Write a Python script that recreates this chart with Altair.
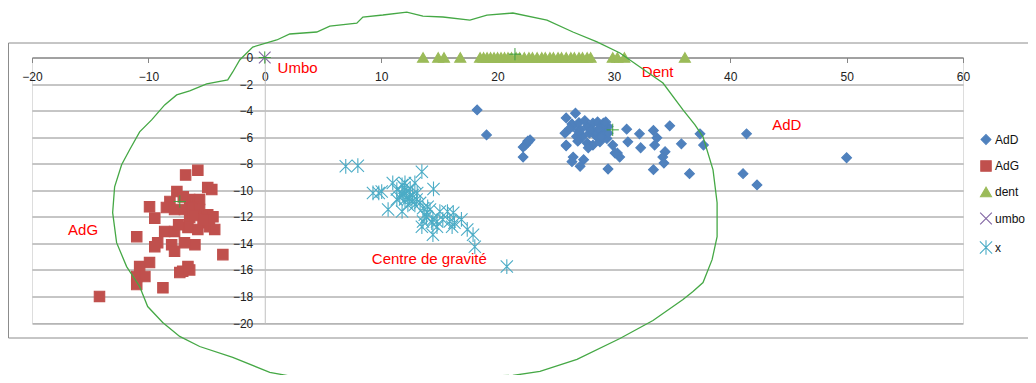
import altair as alt
import pandas as pd

# ---------------- data ----------------
series_order = ["AdD", "AdG", "dent", "umbo", "x"]
series_colors = ["#4f81bd", "#c0504d", "#9bbb59", "#8064a2", "#4bacc6"]

add_x = [18.25, 19.06, 22.6, 22.4, 22.8, 22.2, 22.6, 22.2, 25.9, 26.7, 25.8, 25.9, 26.5, 26.4, 27.1, 27.4,
         26.5, 27.1, 27.7, 28.2, 28.6, 29.1, 29.5, 27.9, 28.5, 29.1, 29.4, 27.7, 28.2, 28.8, 27.3, 26.8,
         27.8, 28.4, 29.0, 29.5, 29.9, 30.3, 30.5, 29.5, 31.1, 31.2, 32.2, 32.3, 33.4, 33.7, 33.5, 33.4,
         34.4, 34.2, 34.3, 34.8, 35.8, 36.5, 37.4, 37.7, 41.4, 41.1, 42.3, 50.0, 25.9, 26.4, 27.0, 30.1,
         27.0, 27.5, 28.0, 28.7, 26.2, 28.9, 29.3, 26.9]
add_y = [-3.95, -5.83, -6.4, -6.6, -6.2, -6.75, -6.3, -7.5, -4.55, -4.2, -5.7, -6.6, -7.5, -7.85, -8.2, -7.7,
         -5.2, -5.45, -5.2, -4.95, -4.85, -4.95, -5.2, -5.7, -5.95, -5.7, -6.1, -6.45, -6.6, -6.35, -5.95, -5.95,
         -6.8, -5.6, -5.3, -5.7, -6.6, -7.2, -7.5, -8.4, -5.4, -6.35, -5.75, -6.8, -5.5, -6.05, -6.6, -8.45,
         -7.1, -7.5, -7.95, -5.15, -6.5, -8.75, -5.75, -6.6, -5.75, -8.75, -9.6, -7.55, -6.65, -5.0, -4.9, -7.2,
         -5.6, -4.75, -5.45, -5.4, -5.35, -6.0, -4.85, -6.3]

adg_x = [-14.2, -6.8, -5.75, -4.9, -4.55, -7.55, -8.15, -6.45, -5.85, -5.6, -9.9, -8.45, -7.75, -6.9,
         -6.2, -5.6, -9.45, -6.45, -4.9, -4.45, -5.3, -4.75, -4.3, -6.6, -5.75, -8.6, -7.75, -11.0,
         -9.2, -9.45, -8.0, -6.9, -6.0, -7.75, -3.6, -9.9, -10.75, -6.6, -7.05, -7.3, -6.45, -11.0,
         -10.3, -11.0, -8.75, -7.0, -6.1, -5.2, -7.4]
adg_y = [-18.0, -8.85, -8.5, -9.8, -9.95, -10.1, -10.85, -10.7, -10.85, -10.7, -11.25, -11.3, -11.45, -11.45,
         -11.3, -11.45, -12.1, -12.05, -11.85, -12.0, -12.45, -12.75, -12.95, -12.8, -12.95, -13.1, -13.1, -13.5,
         -13.95, -14.25, -14.1, -13.95, -14.1, -14.6, -14.85, -15.45, -15.75, -15.75, -16.1, -16.2, -16.0, -16.5,
         -16.5, -17.1, -17.35, -10.5, -11.9, -12.2, -12.6]

dent_x = [13.6, 14.9, 15.4, 16.8, 18.5, 18.8, 19.1, 19.4, 19.7, 20.0, 20.3, 20.6, 20.9, 21.2, 21.6, 21.9,
          22.3, 22.7, 23.0, 23.4, 23.8, 24.1, 24.5, 24.8, 25.2, 25.5, 25.9, 26.3, 26.6, 27.0, 27.3, 27.7,
          28.0, 29.9, 30.3, 30.9, 36.1]
dent_y = [0.0] * len(dent_x)

umbo_x = [0.0]
umbo_y = [0.0]

grav_x = [6.96, 8.0, 13.5, 9.3, 9.8, 10.05, 14.5, 11.0, 11.8, 12.05, 12.9, 11.35, 11.8, 12.2, 12.45, 12.7,
          13.05, 12.65, 12.05, 11.6, 12.3, 12.9, 13.35, 11.35, 10.6, 11.8, 13.6, 14.0, 14.2, 13.75, 13.9,
          15.05, 15.7, 16.2, 14.45, 14.8, 14.35, 13.6, 13.5, 15.3, 15.9, 16.3, 16.9, 14.8, 14.45, 16.1,
          17.4, 17.9, 18.05, 20.8, 12.0, 12.5, 11.9, 13.1, 12.4]
grav_y = [-8.2, -8.15, -8.6, -10.2, -10.2, -10.1, -9.9, -9.45, -9.6, -9.45, -9.45, -9.95, -10.2, -10.1, -10.5, -10.35,
          -10.7, -10.85, -10.7, -10.55, -11.1, -11.1, -10.95, -10.7, -11.45, -11.6, -11.35, -11.25, -11.45, -11.85, -12.0,
          -11.6, -11.6, -11.7, -12.2, -12.35, -12.45, -12.35, -12.75, -12.2, -12.35, -12.45, -12.2, -12.75, -13.35, -12.75,
          -12.95, -13.35, -14.25, -15.75, -9.8, -9.9, -10.35, -10.2, -10.6]

centroid_x = [0.0, 21.5, 29.9, -7.3]
centroid_y = [0.0, 0.25, -5.45, -10.85]

contour_x = [1.03, -1.03, -2.15, -2.75, -3.18, -4.99, -6.45, -7.57, -8.60, -9.72, -10.75, -11.61, -12.30,
             -12.90, -13.07, -12.73, -11.87, -10.75, -10.06, -8.77, -7.31, -5.59, -2.75, 0.43, 3.27, 6.45,
             11.87, 15.31, 17.37, 21.32, 23.65, 26.83, 30.52, 33.36, 35.94, 36.80, 37.66, 38.44, 38.87,
             38.87, 38.52, 37.66, 36.97, 35.94, 34.22, 32.24, 30.52, 28.55, 26.48, 24.25, 21.32, 19.09,
             17.63, 15.31, 13.59, 12.21, 10.15, 8.43, 7.91, 5.59, 4.47, 2.15, 1.03]
contour_y = [1.32, 0.79, -0.19, -1.09, -1.69, -1.99, -2.52, -2.82, -3.57, -4.70, -5.60, -6.95, -8.08,
             -9.74, -11.69, -13.95, -15.75, -17.25, -18.76, -19.96, -21.01, -21.77, -22.59, -23.72, -24.17, -24.32,
             -24.40, -24.25, -24.02, -23.95, -23.65, -22.74, -21.17, -19.81, -18.23, -17.63, -16.95, -15.23, -13.50,
             -10.94, -8.46, -5.98, -5.08, -3.95, -1.92, -0.71, 0.34, 1.17, 1.92, 2.82, 3.35, 3.20,
             2.82, 3.05, 3.12, 3.42, 3.20, 3.05, 2.59, 2.37, 1.92, 1.77, 1.32]

note_text = ["Umbo", "Dent", "AdD", "AdG", "Centre de gravité"]
note_x = [1.1, 32.4, 43.6, -16.9, 9.2]
note_y = [-0.8, -1.1, -5.1, -13.0, -15.15]

x_ticks = [-20, -10, 0, 10, 20, 30, 40, 50, 60]
y_ticks = [0, -2, -4, -6, -8, -10, -12, -14, -16, -18, -20]

# ---------------- tables ----------------
rows = []
for name, xs, ys in [("AdD", add_x, add_y), ("AdG", adg_x, adg_y), ("dent", dent_x, dent_y),
                     ("umbo", umbo_x, umbo_y), ("x", grav_x, grav_y)]:
    for a, b in zip(xs, ys):
        rows.append({"series": name, "x": a, "y": b})
pts = pd.DataFrame(rows)
cent = pd.DataFrame({"x": centroid_x, "y": centroid_y})
cont = pd.DataFrame({"x": contour_x, "y": contour_y, "i": list(range(len(contour_x)))})
notes = pd.DataFrame({"t": note_text, "x": note_x, "y": note_y})

W, H = 931, 265.5
FONT = "Liberation Sans"

xscale = alt.Scale(domain=[-20, 60], nice=False, zero=False)
yscale = alt.Scale(domain=[-20, 0], nice=False, zero=False)

shape_range = [
    "diamond", "square", "triangle-up",
    "M-1,-1L1,1M-1,1L1,-1",
    "M-1,-1L1,1M-1,1L1,-1M0,-1.2L0,1.2",
]
size_range = [95, 150, 120, 90, 110]

x_axis = alt.Axis(orient="bottom", offset=-H, values=x_ticks, grid=False, tickSize=5,
                  labelPadding=9, domainColor="#868686", tickColor="#868686", labelColor="#222222",
                  labelFont=FONT, labelFontSize=12, title=None, labelFlush=False, labelOverlap=False)
y_axis = alt.Axis(orient="left", offset=-(W / 80 * 20), values=y_ticks, grid=True, gridColor="#8c8c8c",
                  tickSize=0, labelPadding=12, domainColor="#c0c0c0", labelColor="#222222",
                  labelFont=FONT, labelFontSize=12, title=None, format="d", labelOverlap=False,
                  labelFlush=False)


def X():
    return alt.X("x:Q", scale=xscale, axis=x_axis)


def Y():
    return alt.Y("y:Q", scale=yscale, axis=y_axis)


border = alt.Chart(notes.head(1)).mark_rect(fillOpacity=0, stroke="#8c8c8c", strokeWidth=1).encode(
    x=alt.value(-23.5), x2=alt.value(1030), y=alt.value(-14.5), y2=alt.value(280.5)
)

points = alt.Chart(pts).mark_point(filled=True, opacity=1, strokeWidth=1.1).encode(
    x=X(), y=Y(),
    color=alt.Color("series:N", scale=alt.Scale(domain=series_order, range=series_colors),
                    sort=series_order,
                    legend=alt.Legend(title=None, orient="none", legendX=947, legendY=76,
                                      labelFont=FONT, labelFontSize=12, labelColor="#111111",
                                      symbolSize=70, rowPadding=10.5, padding=0, labelOffset=2,
                                      symbolStrokeWidth=1.1, labelLimit=60)),
    shape=alt.Shape("series:N", scale=alt.Scale(domain=series_order, range=shape_range), sort=series_order),
    stroke=alt.Stroke("series:N", scale=alt.Scale(domain=series_order, range=series_colors), legend=None),
    size=alt.Size("series:N", scale=alt.Scale(domain=series_order, range=size_range), legend=None),
)

centroids = alt.Chart(cent).mark_point(shape="M-1,0L1,0M0,-1L0,1", stroke="#3f9f3f", strokeWidth=1,
                                       filled=False, size=150, opacity=1).encode(x=X(), y=Y())

labels = alt.Chart(notes).mark_text(align="left", baseline="middle", color="#ff0000", font=FONT,
                                    fontSize=15).encode(x=X(), y=Y(), text="t:N")

contour = alt.Chart(cont).mark_line(clip=False, color="#45a845", strokeWidth=1.3, interpolate="linear").encode(
    x=X(), y=Y(), order="i:Q"
)

chart = alt.layer(border, points, centroids, labels, contour).properties(
    width=W, height=H,
    autosize=alt.AutoSizeParams(type="none"),
    padding={"left": 24, "top": 49.5, "right": 65, "bottom": 52},
).configure_view(stroke=None).configure(background="white")

chart.save("out.html", embed_options={"renderer": "svg", "actions": False})
